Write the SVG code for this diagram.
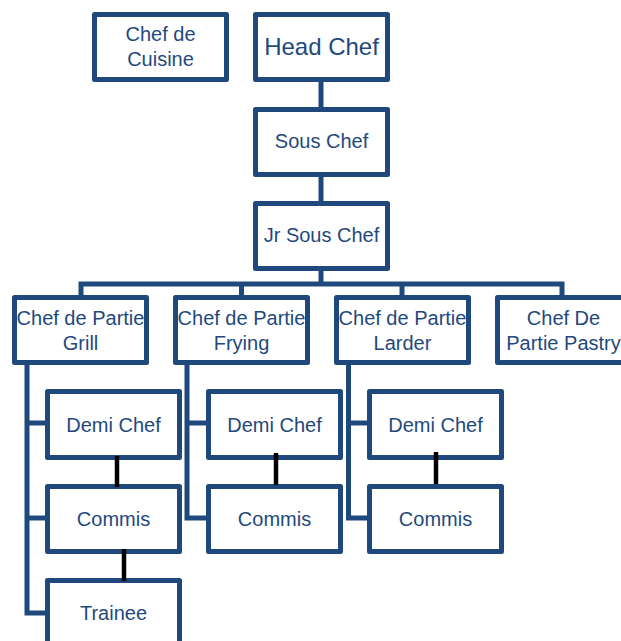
<svg xmlns="http://www.w3.org/2000/svg" width="621" height="641" viewBox="0 0 621 641">
<style>
.box{fill:#fff;stroke:#1F497D;stroke-width:5;stroke-linejoin:round}
.t{font-family:"Liberation Sans",Arial,sans-serif;font-size:20px;fill:#1F497D;text-anchor:middle}
.c{fill:none;stroke:#1F497D;stroke-width:5;stroke-linejoin:miter}
.k{stroke:#000;stroke-width:4.5}
</style>
<rect width="621" height="641" fill="#fff"/>
<g id="connectors">
<line class="c" x1="321" y1="80" x2="321" y2="110"/>
<line class="c" x1="321" y1="175" x2="321" y2="204"/>
<line class="c" x1="321" y1="269" x2="321" y2="284"/>
<path class="c" d="M81 297 V284 H562 V297"/>
<line class="c" x1="241.5" y1="284" x2="241.5" y2="297"/>
<line class="c" x1="402" y1="284" x2="402" y2="297"/>
<path class="c" d="M27 363 V613 H47"/>
<line class="c" x1="27" y1="423" x2="47" y2="423"/>
<line class="c" x1="27" y1="518" x2="47" y2="518"/>
<path class="c" d="M187 363 V518 H208"/>
<line class="c" x1="187" y1="423" x2="208" y2="423"/>
<path class="c" d="M348.5 363 V518 H369"/>
<line class="c" x1="348.5" y1="423" x2="369" y2="423"/>
</g>
<g id="chef-de-cuisine"><rect class="box" x="94.5" y="14.5" width="132" height="65"/><text class="t" x="160.5" y="41">Chef de</text><text class="t" x="160.5" y="66">Cuisine</text></g>
<g id="head-chef"><rect class="box" x="255.5" y="14.5" width="132" height="65"/><text class="t" x="321.5" y="55" style="font-size:24px">Head Chef</text></g>
<g id="sous-chef"><rect class="box" x="255.5" y="109.5" width="132" height="65"/><text class="t" x="321.5" y="148">Sous Chef</text></g>
<g id="jr-sous-chef"><rect class="box" x="255.5" y="203.5" width="132" height="65"/><text class="t" x="321.5" y="242">Jr Sous Chef</text></g>
<g id="cdp-grill"><rect class="box" x="14.5" y="297.5" width="132" height="65"/><text class="t" x="80.5" y="325">Chef de Partie</text><text class="t" x="80.5" y="350">Grill</text></g>
<g id="cdp-frying"><rect class="box" x="175.5" y="297.5" width="132" height="65"/><text class="t" x="241.5" y="325">Chef de Partie</text><text class="t" x="241.5" y="350">Frying</text></g>
<g id="cdp-larder"><rect class="box" x="336.5" y="297.5" width="132" height="65"/><text class="t" x="402.5" y="325">Chef de Partie</text><text class="t" x="402.5" y="350">Larder</text></g>
<g id="cdp-pastry"><rect class="box" x="497.5" y="297.5" width="132" height="65"/><text class="t" x="563.5" y="325">Chef De</text><text class="t" x="563.5" y="350">Partie Pastry</text></g>
<g id="demi-1"><rect class="box" x="47.5" y="391.5" width="132" height="66"/><text class="t" x="113.5" y="432">Demi Chef</text></g>
<g id="commis-1"><rect class="box" x="47.5" y="486.5" width="132" height="65"/><text class="t" x="113.5" y="526">Commis</text></g>
<g id="trainee-1"><rect class="box" x="47.5" y="580.5" width="132" height="65"/><text class="t" x="113.5" y="620">Trainee</text></g>
<g id="demi-2"><rect class="box" x="208.5" y="391.5" width="132" height="66"/><text class="t" x="274.5" y="432">Demi Chef</text></g>
<g id="commis-2"><rect class="box" x="208.5" y="486.5" width="132" height="65"/><text class="t" x="274.5" y="526">Commis</text></g>
<g id="demi-3"><rect class="box" x="369.5" y="391.5" width="132" height="66"/><text class="t" x="435.5" y="432">Demi Chef</text></g>
<g id="commis-3"><rect class="box" x="369.5" y="486.5" width="132" height="65"/><text class="t" x="435.5" y="526">Commis</text></g>
<g id="black-links">
<line class="k" x1="117" y1="456" x2="117" y2="487"/>
<line class="k" x1="124" y1="549" x2="124" y2="581"/>
<line class="k" x1="276" y1="453" x2="276" y2="485"/>
<line class="k" x1="436" y1="452" x2="436" y2="484"/>
</g>
</svg>
